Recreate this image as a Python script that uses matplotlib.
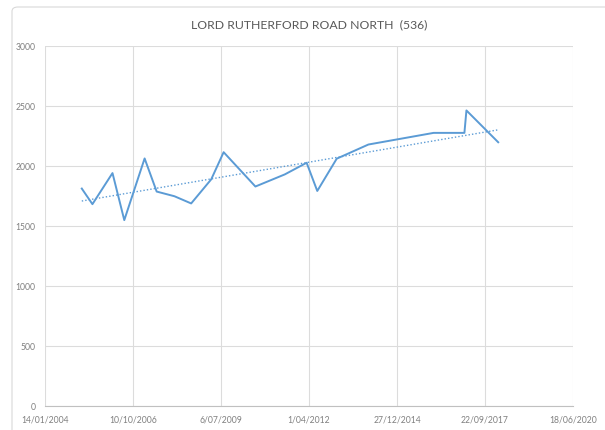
import matplotlib
matplotlib.use("Agg")
import matplotlib.pyplot as plt
import matplotlib.dates as mdates
from matplotlib.patches import FancyBboxPatch
import numpy as np
import pandas as pd

# count dates and values
dates = ["2005-03-07", "2005-07-06", "2006-02-19", "2006-07-03", "2007-02-19",
         "2007-07-06", "2008-01-24", "2008-08-01", "2009-03-17", "2009-08-05",
         "2010-08-01", "2011-07-01", "2012-03-05", "2012-07-04", "2013-02-10",
         "2014-02-05", "2016-02-16", "2017-01-31", "2017-02-23", "2018-02-19"]
counts = [1812, 1682, 1941, 1549, 2063, 1787, 1748, 1688, 1889, 2115,
          1829, 1930, 2027, 1792, 2061, 2179, 2276, 2276, 2463, 2198]
tick_dates = ["2004-01-14", "2006-10-10", "2009-07-06", "2012-04-01",
              "2014-12-27", "2017-09-22", "2020-06-18"]
y_ticks = [0, 500, 1000, 1500, 2000, 2500, 3000]
title = "LORD RUTHERFORD ROAD NORTH  (536)"

plt.rcParams['font.family'] = ['Lato', 'DejaVu Sans']

x = mdates.date2num(pd.to_datetime(dates))
xt = mdates.date2num(pd.to_datetime(tick_dates))
y = np.array(counts)

fig = plt.figure(figsize=(6.05, 4.31), dpi=100)
# outer chart border
fig.patches.append(FancyBboxPatch((12/605, 1 - 440/431), 600/605, 432/431,
                                  boxstyle="round,pad=0,rounding_size=0.01",
                                  transform=fig.transFigure, fill=False,
                                  edgecolor="#d9d9d9", linewidth=0.8))

ax = fig.add_axes([45/605, 1 - 407/431, (573 - 45)/605, (407 - 47)/431])

blue = "#5b9bd5"
grey = "#808080"

ax.plot(x, y, color=blue, linewidth=1.4)
# linear trendline
k, b = np.polyfit(x, y, 1)
ax.plot([x[0], x[-1]], [k*x[0] + b, k*x[-1] + b], color=blue, linewidth=1.0,
        linestyle=(0, (1, 1.5)))


def excel_date(d):
    t = pd.Timestamp(d)
    return "%d/%02d/%d" % (t.day, t.month, t.year)


ax.set_xlim(xt[0], xt[-1])
ax.set_ylim(0, 3000)
ax.set_xticks(xt)
ax.set_xticklabels([excel_date(d) for d in tick_dates])
ax.set_yticks(y_ticks)
ax.grid(True, color="#dcdcdc", linewidth=0.8)
ax.set_axisbelow(True)
for s in ["top", "right", "left"]:
    ax.spines[s].set_visible(False)
ax.spines["bottom"].set_color("#c0c0c0")
ax.spines["bottom"].set_linewidth(0.8)
ax.tick_params(length=0, labelsize=6.2, labelcolor=grey, pad=6)
ax.tick_params(axis="y", pad=7)

fig.text((45 + 573) / 2 / 605, 1 - 25/431, title, ha="center", va="center",
         fontsize=8.8, color="#595959")

fig.savefig("out.png", dpi=100)
